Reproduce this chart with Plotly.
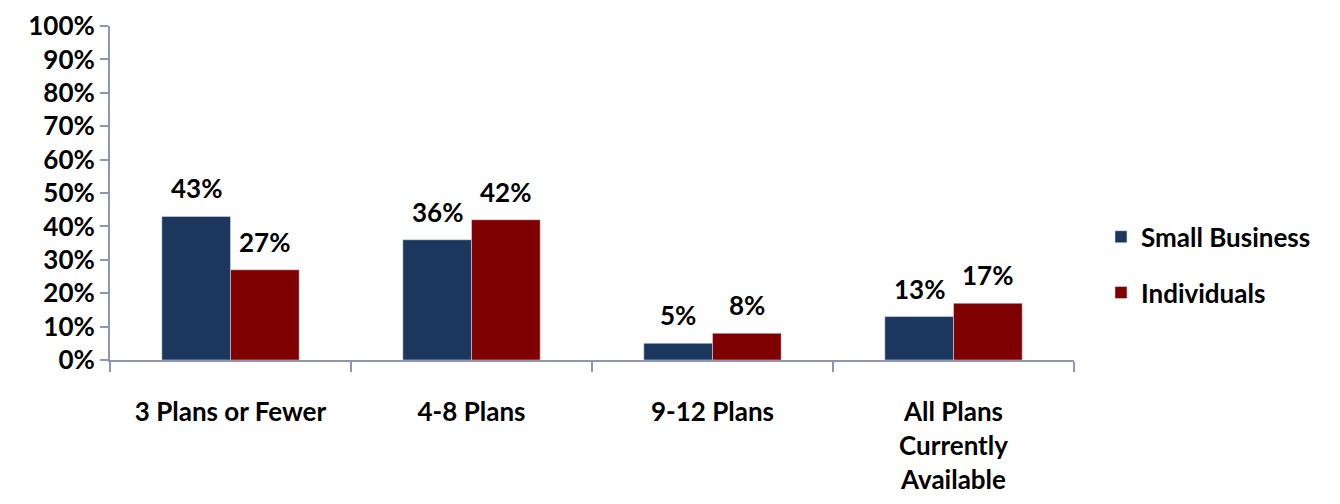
import plotly.graph_objects as go

categories = ["3 Plans or Fewer", "4-8 Plans", "9-12 Plans", "All Plans<br>Currently<br>Available"]
small_business = [43, 36, 5, 13]
individuals = [27, 42, 8, 17]
y_ticks = list(range(0, 101, 10))

font_family = "Lato, 'Open Sans', sans-serif"
axis_color = "#8d97b3"
fs = 26
bargap = 0.43
half = (1 - bargap) / 4  # offset of each bar centre from category centre

fig = go.Figure()
fig.add_trace(go.Bar(
    x=categories, y=small_business, name="Small Business",
    marker_color="#1b375e", legendgroup="a",
))
fig.add_trace(go.Bar(
    x=categories, y=individuals, name="Individuals",
    marker_color="#7f0000", legendgroup="b",
))

annotations = []
for i, (a, b) in enumerate(zip(small_business, individuals)):
    for off, v in ((-half, a), (half, b)):
        annotations.append(dict(
            x=i + off, y=v, xref="x", yref="y", text=f"{v}%", showarrow=False,
            yanchor="middle", yshift=28,
            font=dict(size=fs, family=font_family, color="black", weight="bold"),
        ))

fig.update_layout(
    width=1332, height=496,
    margin=dict(l=102, r=266, t=18, b=144),
    paper_bgcolor="white", plot_bgcolor="white",
    barmode="group", bargap=bargap, bargroupgap=0,
    font=dict(family=font_family, size=fs, color="black", weight="bold"),
    showlegend=True,
    annotations=annotations,
    legend=dict(x=1.028, y=0.285, yanchor="middle", xanchor="left",
                font=dict(size=fs, family=font_family, color="black", weight="bold"),
                tracegroupgap=19, itemwidth=30),
    xaxis=dict(
        showline=True, linecolor=axis_color, linewidth=2,
        ticks="outside", tickson="boundaries", ticklen=10, tickcolor=axis_color, tickwidth=2,
        ticklabelstandoff=28, automargin=False, ticklabeloverflow="allow",
        tickfont=dict(size=fs, family=font_family, weight="bold"),
        showgrid=False,
    ),
    yaxis=dict(
        range=[0, 100], tickvals=y_ticks, ticktext=[f"{v}%" for v in y_ticks],
        showline=True, linecolor=axis_color, linewidth=2,
        ticks="outside", ticklen=8, tickcolor=axis_color, tickwidth=2,
        showgrid=False, zeroline=False, automargin=False, ticklabeloverflow="allow",
        tickfont=dict(size=fs, family=font_family, weight="bold"),
    ),
)

fig.write_html("out.html")
